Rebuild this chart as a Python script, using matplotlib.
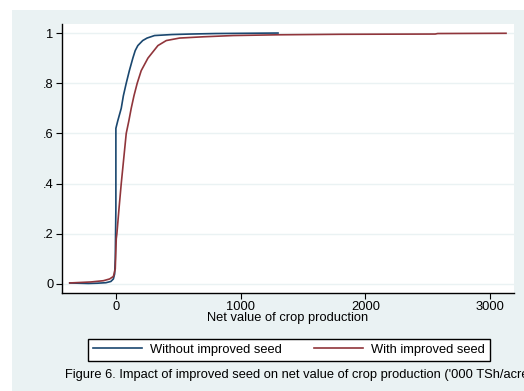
import numpy as np
import matplotlib
matplotlib.use('Agg')
import matplotlib.pyplot as plt
from matplotlib import rcParams
from matplotlib.patches import Rectangle

rcParams['font.family'] = ['Liberation Sans', 'DejaVu Sans']

# cumulative distributions
x_without = [-370, -300, -220, -150, -80, -40, -20, -10, -5, 0, 0, 15, 43, 60, 83, 108,
             136, 155, 176, 215, 250, 310, 450, 600, 800, 1050, 1300]
y_without = [0.004, 0.003, 0.002, 0.003, 0.005, 0.01, 0.02, 0.04, 0.1, 0.3, 0.62, 0.65,
             0.70, 0.75, 0.80, 0.85, 0.90, 0.93, 0.95, 0.97, 0.98, 0.99, 0.994, 0.996,
             0.998, 0.999, 1.0]

x_with = [-370, -200, -100, -50, -20, -5, 3, 8, 25, 43, 63, 83, 104, 123, 145, 171, 203,
          257, 337, 404, 511, 700, 940, 1300, 1800, 2560, 2580, 3128]
y_with = [0.004, 0.008, 0.013, 0.02, 0.03, 0.06, 0.18, 0.2, 0.3, 0.4, 0.5, 0.6, 0.65,
          0.7, 0.75, 0.8, 0.85, 0.9, 0.95, 0.97, 0.98, 0.985, 0.99, 0.993, 0.995, 0.996,
          0.998, 0.999]

xticks = [0, 1000, 2000, 3000]
yticks = [0, 0.2, 0.4, 0.6, 0.8, 1]
ytick_labels = ['0', '.2', '.4', '.6', '.8', '1']

W, H = 524, 391
bg = '#eaf2f3'
blue = '#1a476f'
red = '#90353b'
fs = 9.3

fig = plt.figure(figsize=(W / 100, H / 100), dpi=100)
fig.patch.set_facecolor('white')
fig.patches.append(Rectangle((12 / W, 0), 1, 1 - 10 / H, transform=fig.transFigure,
                             facecolor=bg, edgecolor='none', zorder=-10))

ax = fig.add_axes([62 / W, (H - 293) / H, (514 - 62) / W, (293 - 24) / H])
ax.set_facecolor('white')
ax.plot(x_without, y_without, color=blue, lw=1.2, label='Without improved seed')
ax.plot(x_with, y_with, color=red, lw=1.2, label='With improved seed')

ax.set_xlim(-432, 3192)
ax.set_ylim(-0.036, 1.036)
ax.set_xticks(xticks)
ax.set_yticks(yticks)
ax.set_yticklabels(ytick_labels)
ax.tick_params(axis='both', direction='out', length=4, width=0.8, color='black',
               labelsize=fs, pad=2)
ax.grid(axis='y', color=bg, lw=1)
ax.set_axisbelow(True)
for s in ['top', 'right']:
    ax.spines[s].set_visible(False)
for s in ['left', 'bottom']:
    ax.spines[s].set_linewidth(1.0)
ax.set_xlabel('Net value of crop production', fontsize=fs, labelpad=-1)

fig.legend(loc='lower left', ncol=2, mode='expand',
           bbox_to_anchor=(88 / W, (H - 361) / H, (490 - 88) / W, 25 / H),
           fontsize=fs, frameon=True, fancybox=False, edgecolor='black',
           framealpha=1, handlelength=3.8, handletextpad=0.6, borderaxespad=0,
           borderpad=0.4)

fig.text(65 / W, (H - 378) / H,
         "Figure 6. Impact of improved seed on net value of crop production ('000 TSh/acre)",
         fontsize=fs, ha='left', va='baseline')

plt.savefig('out.png', dpi=100, facecolor=fig.get_facecolor())
